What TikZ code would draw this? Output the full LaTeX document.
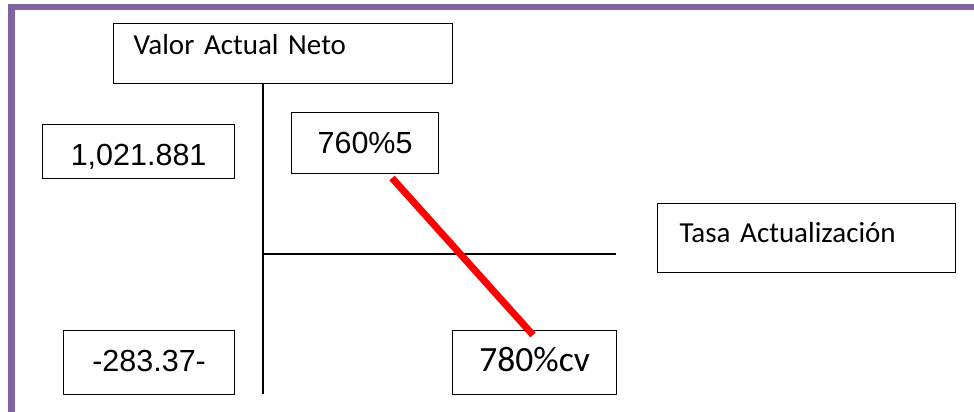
\documentclass[tikz,border=0pt]{standalone}
\usepackage{fontspec}
\setmainfont{Carlito}
\newfontfamily\arialfont{Liberation Sans}
\definecolor{marco}{HTML}{8064A2}
\definecolor{rojo}{HTML}{FF0000}
\tikzset{
    caja/.style={draw,line width=1.2pt,inner sep=0pt,anchor=north west},
    cifra/.style={font=\arialfont\fontsize{30.5}{36}\selectfont},
    rotulo/.style={font=\fontsize{29}{35}\selectfont,align=left}
}

\begin{document}
\begin{tikzpicture}[x=1pt,y=-1pt]
        \useasboundingbox(0,0)rectangle(974,412);
        % marco morado
        \fill[marco](8,4)rectangle(974,10);
        \fill[marco](8,4)rectangle(15,412);
        \node[caja,rotulo,text width=299pt,inner xsep=20pt,text height=31pt,text depth=29pt](van)at(113,23){Valor Actual Neto};
        \node[caja,cifra,minimum width=192pt,text height=41pt,text depth=13pt](vpos)at(42,124){1,021.881};
        \node[caja,cifra,minimum width=147pt,text height=41pt,text depth=20pt](tasaA)at(291,112){760\%5};
        \node[caja,rotulo,text width=254pt,inner xsep=22pt,text height=39pt,text depth=30pt](tasa)at(657,203){Tasa Actualización};
        \node[caja,cifra,minimum width=171pt,text height=41pt,text depth=23pt](vneg)at(63,330){-283.37-};
        \node[caja,font=\fontsize{35.5}{40}\selectfont,minimum width=164pt,text height=41pt,text depth=23pt](tasaB)at(452,330){780\%cv};
        % ejes
        \coordinate(ejeY)at(263,394);
        \coordinate(origen)at(263,254);
        \coordinate(ejeX)at(616,254);
        \draw[line width=1.2pt](van.south -| ejeY)--(ejeY);
        \draw[line width=1.2pt](origen)--(ejeX);
        % recta del VAN
        \coordinate(R1)at(392,178);
        \coordinate(R2)at(533,335);
        \draw[rojo,line width=7pt](R1)--(R2);
    \end{tikzpicture}
\end{document}
